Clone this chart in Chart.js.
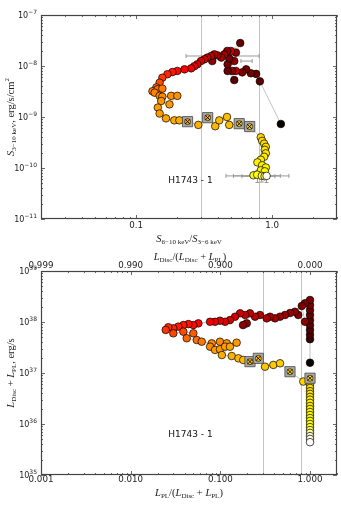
<!DOCTYPE html>
<html>
<head>
<meta charset="utf-8">
<script src="https://cdn.jsdelivr.net/npm/chart.js@4.4.1/dist/chart.umd.min.js"></script>
<style>
html, body { margin: 0; padding: 0; background: #fff; }
#wrap { position: relative; width: 341px; height: 511px; }
canvas { position: absolute; left: 0; top: 0; }
</style>
</head>
<body>
<div id="wrap">
  <canvas id="c1" width="341" height="511"></canvas>
  <canvas id="c2" width="341" height="511"></canvas>
</div>
<script>
/* ===== DATA: top panel (hardness vs flux) ===== */
const topHard = [1.16, 0.813, 0.763, 0.698, 0.645, 0.603, 0.542, 0.509, 0.527, 0.471,
  0.471, 0.527, 0.484, 0.542, 0.583, 0.498, 0.468, 0.445, 0.423, 0.396,
  0.376, 0.363, 0.356, 0.334, 0.318, 0.300, 0.282, 0.268, 0.254, 0.227,
  0.201, 0.185, 0.170, 0.156, 0.149, 0.141, 0.132, 0.144, 0.156, 0.137,
  0.149, 0.156, 0.181, 0.201, 0.176, 0.153, 0.1445, 0.149, 0.166, 0.191,
  0.208, 0.239, 0.287, 0.336, 0.382, 0.409, 0.466, 0.484, 0.573, 0.684,
  0.826, 0.845, 0.874, 0.899, 0.884, 0.899, 0.874, 0.826, 0.780, 0.845,
  0.899, 0.826, 0.884, 0.730, 0.777, 0.840, 0.881, 0.911];
const topFlux = [7.3e-10, 5.0e-9, 7.0e-9, 7.2e-9, 8.6e-9, 7.5e-9, 8.0e-9, 8.0e-9, 5.3e-9, 8.0e-9,
  1.08e-8, 1.25e-8, 1.40e-8, 1.83e-8, 2.82e-8, 1.97e-8, 1.97e-8, 1.69e-8, 1.46e-8, 1.62e-8,
  1.69e-8, 1.25e-8, 1.57e-8, 1.46e-8, 1.35e-8, 1.25e-8, 1.08e-8, 9.9e-9, 9.0e-9, 8.6e-9,
  8.0e-9, 7.6e-9, 6.9e-9, 5.9e-9, 4.7e-9, 3.8e-9, 3.2e-9, 3.5e-9, 3.6e-9, 3.0e-9,
  2.6e-9, 2.5e-9, 2.6e-9, 2.6e-9, 1.77e-9, 2.06e-9, 1.53e-9, 1.17e-9, 9.4e-10, 8.6e-10,
  8.6e-10, 8.1e-10, 7.0e-10, 9.7e-10, 6.6e-10, 8.6e-10, 1.0e-9, 7.0e-10, 7.4e-10, 6.5e-10,
  4.0e-10, 3.4e-10, 3.0e-10, 2.6e-10, 2.27e-10, 1.94e-10, 1.66e-10, 1.45e-10, 1.29e-10, 1.13e-10,
  1.02e-10, 9.0e-11, 8.6e-11, 7.2e-11, 7.4e-11, 7.0e-11, 6.9e-11, 7.0e-11];
// fraction of the outburst elapsed (sets the marker colour)
const topTime = [0.0, 0.12, 0.14, 0.16, 0.15, 0.17, 0.28, 0.18, 0.12, 0.15,
  0.17, 0.20, 0.16, 0.20, 0.14, 0.30, 0.20, 0.22, 0.24, 0.25,
  0.26, 0.20, 0.27, 0.28, 0.30, 0.31, 0.32, 0.33, 0.34, 0.36,
  0.38, 0.40, 0.42, 0.45, 0.48, 0.52, 0.55, 0.53, 0.55, 0.56,
  0.57, 0.57, 0.58, 0.58, 0.59, 0.59, 0.60, 0.60, 0.61, 0.62,
  0.62, 0.63, 0.63, 0.64, 0.64, 0.645, 0.65, 0.65, 0.66, 0.67,
  0.685, 0.69, 0.695, 0.70, 0.705, 0.71, 0.715, 0.72, 0.72, 0.725,
  0.73, 0.73, 0.735, 0.74, 0.75, 0.80, 0.90, 0.98];
const topBoxed = [51, 53, 58, 59];
const topXTicks = [0.1, 1];
const topYTicks = [1e-11, 1e-10, 1e-9, 1e-8, 1e-7];
const topGuides = [0.3, 0.8];
const topErrXLo = [0.233, 0.59, 0.458, 0.52, 0.60];
const topErrXHi = [0.803, 0.714, 1.33, 1.15, 1.05];
const topErrXAt = [1.57e-8, 1.25e-8, 7.0e-11, 7.0e-11, 6.9e-11];
const topErrYAt = [0.78, 0.84, 0.91];
const topErrYLo = [5.2e-11, 5.3e-11, 5.2e-11];
const topErrYHi = [9.0e-11, 8.8e-11, 9.0e-11];

/* ===== DATA: bottom panel (PL fraction vs luminosity) ===== */
const botFrac = [1.0, 1.0, 1.0, 1.0, 1.0, 1.0, 1.0, 1.0, 1.0, 1.0,
  0.88, 0.81, 0.88, 0.74, 0.68, 0.60, 0.526, 0.463, 0.407, 0.358,
  0.329, 0.277, 0.244, 0.214, 0.197, 0.179, 0.189, 0.166, 0.146, 0.128,
  0.113, 0.099, 0.0873, 0.0768, 0.0569, 0.050, 0.044, 0.0387, 0.034, 0.0299,
  0.0263, 0.0246, 0.0299, 0.0387, 0.050, 0.0422, 0.0546, 0.062, 0.0802, 0.0768,
  0.099, 0.118, 0.152, 0.0873, 0.099, 0.113, 0.128, 0.104, 0.134, 0.159,
  0.180, 0.214, 0.265, 0.315, 0.390, 0.463, 0.598, 0.842, 1.0, 1.0,
  1.0, 1.0, 1.0, 1.0, 1.0, 1.0, 1.0, 1.0, 1.0, 1.0,
  1.0, 1.0, 1.0, 1.0, 1.0, 1.0, 1.0, 1.0, 1.0];
const botLum = [1.59e37, 4.6e37, 5.6e37, 7.0e37, 8.7e37, 1.09e38, 1.37e38, 1.72e38, 2.15e38, 2.70e38,
  2.33e38, 2.06e38, 1.01e38, 1.37e38, 1.59e38, 1.50e38, 1.37e38, 1.27e38, 1.18e38, 1.27e38,
  1.18e38, 1.37e38, 1.27e38, 1.48e38, 9.4e37, 8.7e37, 1.37e38, 1.48e38, 1.27e38, 1.09e38,
  1.01e38, 1.06e38, 1.01e38, 1.01e38, 9.4e37, 8.7e37, 9.1e37, 8.7e37, 8.1e37, 7.5e37,
  7.9e37, 7.0e37, 6.0e37, 6.46e37, 6.0e37, 4.8e37, 4.43e37, 4.11e37, 3.82e37, 3.28e37,
  4.11e37, 3.82e37, 3.93e37, 2.83e37, 2.92e37, 3.28e37, 3.28e37, 2.25e37, 2.15e37, 1.94e37,
  1.80e37, 1.67e37, 1.94e37, 1.33e37, 1.44e37, 1.55e37, 1.06e37, 6.8e36, 7.9e36, 5.8e36,
  5.1e36, 4.4e36, 3.9e36, 3.4e36, 3.0e36, 2.6e36, 2.25e36, 1.97e36, 1.72e36, 1.5e36,
  1.31e36, 1.15e36, 1.0e36, 8.7e35, 7.6e35, 6.7e35, 5.8e35, 5.1e35, 4.4e35];
const botTime = [0.0, 0.08, 0.10, 0.11, 0.12, 0.13, 0.14, 0.15, 0.16, 0.17,
  0.17, 0.18, 0.20, 0.19, 0.20, 0.21, 0.22, 0.22, 0.23, 0.24,
  0.25, 0.25, 0.26, 0.27, 0.20, 0.20, 0.28, 0.29, 0.30, 0.31,
  0.32, 0.33, 0.34, 0.35, 0.37, 0.38, 0.39, 0.40, 0.41, 0.42,
  0.43, 0.44, 0.47, 0.48, 0.50, 0.52, 0.53, 0.54, 0.56, 0.57,
  0.57, 0.58, 0.59, 0.60, 0.60, 0.60, 0.61, 0.62, 0.63, 0.64,
  0.645, 0.65, 0.655, 0.66, 0.665, 0.67, 0.675, 0.68, 0.685, 0.69,
  0.695, 0.70, 0.705, 0.71, 0.715, 0.72, 0.725, 0.73, 0.735, 0.74,
  0.745, 0.75, 0.76, 0.78, 0.85, 0.90, 0.95, 0.97, 1.0];
const botBoxed = [61, 62, 66, 68];
const botXTicks = [0.001, 0.01, 0.1, 1];
const botYTicks = [1e35, 1e36, 1e37, 1e38, 1e39];
const botGuides = [0.3, 0.8];

/* ===== HELPERS ===== */
// matplotlib "hot" colormap
function hot(t) {
  const c = v => Math.round(255 * Math.max(0, Math.min(1, v)));
  return `rgb(${c(0.0416 + t / 0.365 * 0.9584)},${c((t - 0.365) / 0.381)},${c((t - 0.746) / 0.254)})`;
}

function sets(xs, ys, ts, boxed) {
  const pts = xs.map((x, i) => ({x: x, y: ys[i]}));
  const bpts = boxed.map(i => pts[i]);
  return [
    {data: pts, showLine: true, borderColor: '#b4b4b4', borderWidth: 0.8,
      pointRadius: pts.map((p, i) => boxed.includes(i) ? 0 : 3.8),
      pointBackgroundColor: ts.map(hot), pointBorderColor: '#000', pointBorderWidth: 0.7, order: 4},
    {data: bpts, pointStyle: 'rect', pointRadius: 7.2, pointBackgroundColor: '#a9a9a9',
      pointBorderColor: '#444', pointBorderWidth: 0.8, order: 3},
    {data: bpts, pointRadius: 3, pointBackgroundColor: boxed.map(i => hot(ts[i])),
      pointBorderColor: '#000', pointBorderWidth: 0.6, order: 2},
    {data: bpts, pointStyle: 'crossRot', pointRadius: 3.4, pointBorderColor: '#000',
      pointBorderWidth: 0.9, order: 1}
  ];
}

// mixed-size serif text (italic symbols, subscripts, superscripts)
function rich(ctx, parts, x, y, rot) {
  const font = s => (s === 'i' ? 'italic ' : '') + (s === 'sub' || s === 'sup' ? 7 : 10.5) + 'px "Liberation Serif"';
  let w = 0;
  const ws = parts.map(p => { ctx.font = font(p[1]); const m = ctx.measureText(p[0]).width; w += m; return m; });
  ctx.save();
  ctx.translate(x, y);
  if (rot) ctx.rotate(-Math.PI / 2);
  ctx.fillStyle = '#222';
  ctx.textAlign = 'left';
  ctx.textBaseline = 'alphabetic';
  let cx = -w / 2;
  parts.forEach((p, i) => {
    ctx.font = font(p[1]);
    const dy = p[1] === 'sub' ? 2.5 : p[1] === 'sup' ? -4.5 : 0;
    ctx.fillText(p[0], cx, dy + 3.5);
    cx += ws[i];
  });
  ctx.restore();
}

function logVals(min, max) {
  const out = [];
  for (let d = Math.floor(Math.log10(min)) - 1; d <= Math.ceil(Math.log10(max)); d++) {
    for (let k = 1; k < 10; k++) {
      const v = k * Math.pow(10, d);
      if (v >= min * 0.999 && v <= max * 1.001) out.push([v, k === 1]);
    }
  }
  return out;
}

function decor(cfg) {
  return {
    id: 'decor',
    beforeDatasetsDraw(chart) {
      const ctx = chart.ctx, a = chart.chartArea, sx = chart.scales.x, sy = chart.scales.y;
      ctx.save();
      ctx.strokeStyle = '#c4c4c4';
      ctx.lineWidth = 1;
      cfg.guides.forEach(v => {
        const x = Math.round(sx.getPixelForValue(v)) + 0.5;
        ctx.beginPath(); ctx.moveTo(x, a.top); ctx.lineTo(x, a.bottom); ctx.stroke();
      });
      ctx.strokeStyle = '#999';
      ctx.lineWidth = 1;
      (cfg.xerr || [[], [], []])[0].forEach((lo, i) => {
        const y = sy.getPixelForValue(cfg.xerr[2][i]);
        const x1 = sx.getPixelForValue(lo), x2 = sx.getPixelForValue(cfg.xerr[1][i]);
        ctx.beginPath();
        ctx.moveTo(x1, y); ctx.lineTo(x2, y);
        ctx.moveTo(x1, y - 2); ctx.lineTo(x1, y + 2);
        ctx.moveTo(x2, y - 2); ctx.lineTo(x2, y + 2);
        ctx.stroke();
      });
      (cfg.yerr || [[], [], []])[0].forEach((xv, i) => {
        const x = sx.getPixelForValue(xv);
        const y1 = sy.getPixelForValue(cfg.yerr[1][i]), y2 = sy.getPixelForValue(cfg.yerr[2][i]);
        ctx.beginPath();
        ctx.moveTo(x, y1); ctx.lineTo(x, y2);
        ctx.moveTo(x - 2, y1); ctx.lineTo(x + 2, y1);
        ctx.moveTo(x - 2, y2); ctx.lineTo(x + 2, y2);
        ctx.stroke();
      });
      ctx.restore();
    },
    afterDraw(chart) {
      const ctx = chart.ctx, a = chart.chartArea, sx = chart.scales.x, sy = chart.scales.y;
      ctx.save();
      // inward ticks on all four sides
      ctx.strokeStyle = '#444';
      ctx.lineWidth = 0.8;
      ctx.beginPath();
      logVals(sx.min, sx.max).forEach(([v, major]) => {
        const x = Math.round(sx.getPixelForValue(v)) + 0.5, l = major ? 4 : 2;
        ctx.moveTo(x, a.bottom); ctx.lineTo(x, a.bottom - l);
        ctx.moveTo(x, a.top); ctx.lineTo(x, a.top + l);
      });
      logVals(sy.min, sy.max).forEach(([v, major]) => {
        const y = Math.round(sy.getPixelForValue(v)) + 0.5, l = major ? 4 : 2;
        ctx.moveTo(a.left, y); ctx.lineTo(a.left + l, y);
        ctx.moveTo(a.right, y); ctx.lineTo(a.right - l, y);
      });
      ctx.stroke();
      ctx.lineWidth = 1.2;
      ctx.strokeRect(a.left + 0.5, a.top + 0.5, a.right - a.left - 1, a.bottom - a.top - 1);

      // y tick labels 10^n
      ctx.fillStyle = '#222';
      ctx.textAlign = 'left';
      ctx.textBaseline = 'alphabetic';
      cfg.yticks.forEach(v => {
        const y = sy.getPixelForValue(v);
        const e = String(Math.round(Math.log10(v))).replace('-', '\u2212');
        ctx.font = '8px "DejaVu Sans"';
        const w1 = ctx.measureText('10').width;
        ctx.font = '6px "DejaVu Sans"';
        const w2 = ctx.measureText(e).width;
        const x0 = a.left - 4 - w1 - w2;
        ctx.font = '8px "DejaVu Sans"';
        ctx.fillText('10', x0, y + 3);
        ctx.font = '6px "DejaVu Sans"';
        ctx.fillText(e, x0 + w1, y - 1);
      });

      // source label
      ctx.font = '9px "DejaVu Sans"';
      ctx.textBaseline = 'middle';
      ctx.fillStyle = '#111';
      ctx.fillText('H1743 - 1', a.left + cfg.label[0] * (a.right - a.left), a.top + cfg.label[1] * (a.bottom - a.top));
      ctx.restore();

      cfg.titles.forEach(t => rich(ctx, t[0], t[1], t[2], t[3]));
    }
  };
}

const tickFont = {family: 'DejaVu Sans', size: 8.7};
function xAxis(pos, min, max, ticks, h, pad, fmt) {
  return {
    type: 'logarithmic', position: pos, min: min, max: max,
    grid: {display: false, drawTicks: false}, border: {display: false},
    afterBuildTicks: s => { s.ticks = ticks.map(v => ({value: v})); },
    afterFit: s => { s.height = h; },
    ticks: {padding: pad, color: '#222', font: tickFont, maxRotation: 0, autoSkip: false, callback: fmt}
  };
}
function yAxis(min, max) {
  return {
    type: 'logarithmic', position: 'left', min: min, max: max,
    grid: {display: false, drawTicks: false}, border: {display: false},
    ticks: {display: false},
    afterFit: s => { s.width = 41; }
  };
}
const base = {
  responsive: false, animation: false, devicePixelRatio: 1, events: [],
  plugins: {legend: {display: false}, tooltip: {enabled: false}}
};

/* ===== TOP CHART ===== */
new Chart(document.getElementById('c1'), {
  type: 'scatter',
  data: {datasets: sets(topHard, topFlux, topTime, topBoxed)},
  options: Object.assign({}, base, {
    layout: {autoPadding: false, padding: {top: 15, right: 4, bottom: 271, left: 0}},
    scales: {
      x: xAxis('bottom', 0.02, 3, topXTicks, 21, 2, v => v.toFixed(1)),
      y: yAxis(1e-11, 1e-7)
    }
  }),
  plugins: [decor({
    guides: topGuides,
    xerr: [topErrXLo, topErrXHi, topErrXAt],
    yerr: [topErrYAt, topErrYLo, topErrYHi],
    yticks: topYTicks,
    label: [0.43, 0.81],
    titles: [
      [[['S', 'i'], ['3\u221210 keV', 'sub'], [', erg/s/cm', 'r'], ['2', 'sup']], 10, 117, true],
      [[['S', 'i'], ['6\u221210 keV', 'sub'], ['/', 'r'], ['S', 'i'], ['3\u22126 keV', 'sub']], 189, 238, false]
    ]
  })]
});

/* ===== BOTTOM CHART ===== */
new Chart(document.getElementById('c2'), {
  type: 'scatter',
  data: {datasets: sets(botFrac, botLum, botTime, botBoxed)},
  options: Object.assign({}, base, {
    layout: {autoPadding: false, padding: {top: 250, right: 4, bottom: 0, left: 0}},
    scales: {
      x: xAxis('bottom', 0.001, 2, botXTicks, 36, 0, v => v.toFixed(3)),
      x2: xAxis('top', 0.001, 2, botXTicks, 21, 0, v => (1 - v).toFixed(3)),
      y: yAxis(1e35, 1e39)
    }
  }),
  plugins: [decor({
    guides: botGuides,
    yticks: botYTicks,
    label: [0.43, 0.80],
    titles: [
      [[['L', 'i'], ['Disc', 'sub'], [' + ', 'r'], ['L', 'i'], ['PL', 'sub'], [', erg/s', 'r']], 10, 373, true],
      [[['L', 'i'], ['PL', 'sub'], ['/(', 'r'], ['L', 'i'], ['Disc', 'sub'], [' + ', 'r'], ['L', 'i'], ['PL', 'sub'], [')', 'r']], 189, 492, false],
      [[['L', 'i'], ['Disc', 'sub'], ['/(', 'r'], ['L', 'i'], ['Disc', 'sub'], [' + ', 'r'], ['L', 'i'], ['PL', 'sub'], [')', 'r']], 190, 256, false]
    ]
  })]
});
</script>
</body>
</html>
